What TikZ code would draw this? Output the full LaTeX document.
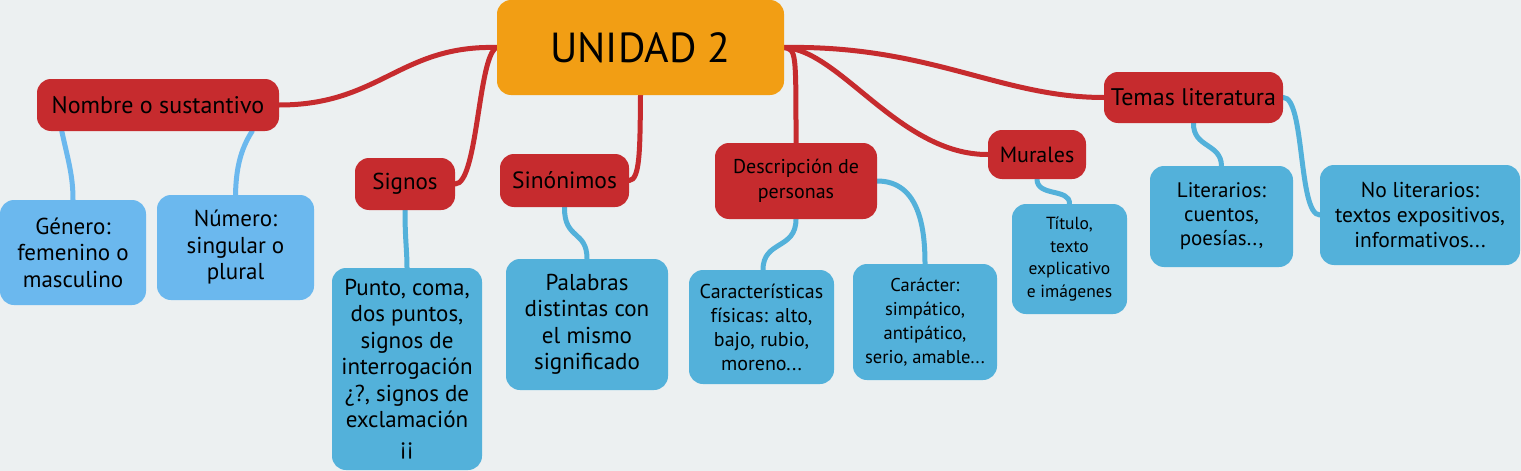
\documentclass[tikz,border=0pt]{standalone}
\usepackage{fontspec}
\setmainfont{PT Sans}
\usetikzlibrary{backgrounds}
\definecolor{bgc}{RGB}{236,240,241}
\definecolor{redc}{RGB}{198,43,46}
\definecolor{orangec}{RGB}{242,158,20}
\definecolor{bluec}{RGB}{83,177,218}
\definecolor{lbluec}{RGB}{107,184,238}
\tikzset{
  box/.style={rounded corners=14pt, align=center, inner sep=0pt, text=black},
  redbox/.style={box, fill=redc},
  bluebox/.style={box, fill=bluec},
  lbluebox/.style={box, fill=lbluec},
  redline/.style={draw=redc, line width=5pt, line cap=round},
  blueline/.style={draw=bluec, line width=5pt, line cap=round},
  lblueline/.style={draw=lbluec, line width=5pt, line cap=round},
  fA/.style={font=\fontsize{23}{26.5}\selectfont},
  fR/.style={font=\fontsize{#1}{25}\selectfont},
  fC/.style={font=\fontsize{20}{24}\selectfont},
}
\begin{document}
\begin{tikzpicture}[x=1pt,y=-1pt]
\useasboundingbox (0,0) rectangle (1521,471);
% central
\node[box, fill=orangec, minimum width=287pt, minimum height=95pt, font=\fontsize{42}{48}\selectfont] (u) at (640.5,47.5) {UNIDAD 2};
% main branches
\node[redbox, fR=24, minimum width=242pt, minimum height=52pt] (nombre) at (158,105) {Nombre o sustantivo};
\node[redbox, fR=23, minimum width=100pt, minimum height=52pt] (signos) at (405,184) {Signos};
\node[redbox, fR=23.5, minimum width=129pt, minimum height=53pt] (sinonimos) at (564.5,180.5) {Sinónimos};
\node[redbox, fR=20, minimum width=162pt, minimum height=76pt] (desc) at (796,181) {Descripción de\\personas};
\node[redbox, fR=22, minimum width=98pt, minimum height=49pt] (murales) at (1037,154.5) {Murales};
\node[redbox, fR=24, minimum width=179pt, minimum height=51pt] (temas) at (1193.5,97.5) {Temas literatura};
% leaves
\node[lbluebox, fA, minimum width=146pt, minimum height=105pt] (genero) at (73,252.5) {Género:\\femenino o\\masculino};
\node[lbluebox, fA, minimum width=157pt, minimum height=105pt] (numero) at (235.5,247.5) {Número:\\singular o\\plural};
\node[bluebox, fA, minimum width=150pt, minimum height=202pt] (punto) at (407,369) {Punto, coma,\\dos puntos,\\signos de\\interrogación\\¿?, signos de\\exclamación\\¡¡};
\node[bluebox, fA, minimum width=162pt, minimum height=131pt] (palabras) at (587,324.5) {Palabras\\distintas con\\el mismo\\significado};
\node[bluebox, fC, minimum width=145pt, minimum height=114pt] (carac) at (761.5,327) {Características\\físicas: alto,\\bajo, rubio,\\moreno...};
\node[bluebox, font=\fontsize{18.5}{24}\selectfont, minimum width=144pt, minimum height=116pt] (caracter) at (925,322) {Carácter:\\simpático,\\antipático,\\serio, amable...};
\node[bluebox, font=\fontsize{17.5}{22.5}\selectfont, minimum width=115pt, minimum height=110pt] (titulo) at (1069.5,259) {Título,\\texto\\explicativo\\e imágenes};
\node[bluebox, font=\fontsize{21}{24}\selectfont, minimum width=143pt, minimum height=101pt] (literarios) at (1221.5,216.5) {Literarios:\\cuentos,\\poesías..,};
\node[bluebox, font=\fontsize{21.5}{25}\selectfont, minimum width=200pt, minimum height=100pt] (noliterarios) at (1420,215) {No literarios:\\textos expositivos,\\informativos...};
\begin{pgfonlayer}{background}
\fill[bgc] (0,0) rectangle (1521,471);
% red connectors
\path[redline] (u.west) .. controls (400,45) and (380,105) .. (nombre.east);
\path[redline] (u.west) .. controls (478,55) and (478,184) .. (signos.east);
\path[redline] (u.south) .. controls (640,150) and (640,180) .. (sinonimos.east);
\path[redline] (u.east) .. controls (796,50) .. (desc.north);
\path[redline] (u.east) .. controls (840,50) and (900,155) .. (murales.west);
\path[redline] (u.east) .. controls (930,45) and (1000,97.5) .. (temas.west);
% blue connectors
\path[lblueline] ([xshift=25pt]nombre.south west) .. controls (68,160) and (73,175) .. (genero.north);
\path[lblueline] ([xshift=-27pt]nombre.south east) .. controls (240,150) and (236,170) .. (numero.north);
\path[blueline] (signos.south) .. controls (405,240) and (407,250) .. (punto.north);
\path[blueline] (sinonimos.south) .. controls (564,240) and (587,230) .. (palabras.north);
\path[blueline] (desc.south) .. controls (796,250) and (763,240) .. ([xshift=1.5pt]carac.north);
\path[blueline] (desc.east) .. controls (920,181) and (925,230) .. (caracter.north);
\path[blueline] (murales.south) .. controls (1037,197) and (1070,188) .. (titulo.north);
\path[blueline] (temas.south) .. controls (1193,148) and (1221,143) .. (literarios.north);
\path[blueline] (temas.east) .. controls (1305,97) and (1298,215) .. (noliterarios.west);
\end{pgfonlayer}
\end{tikzpicture}
\end{document}
